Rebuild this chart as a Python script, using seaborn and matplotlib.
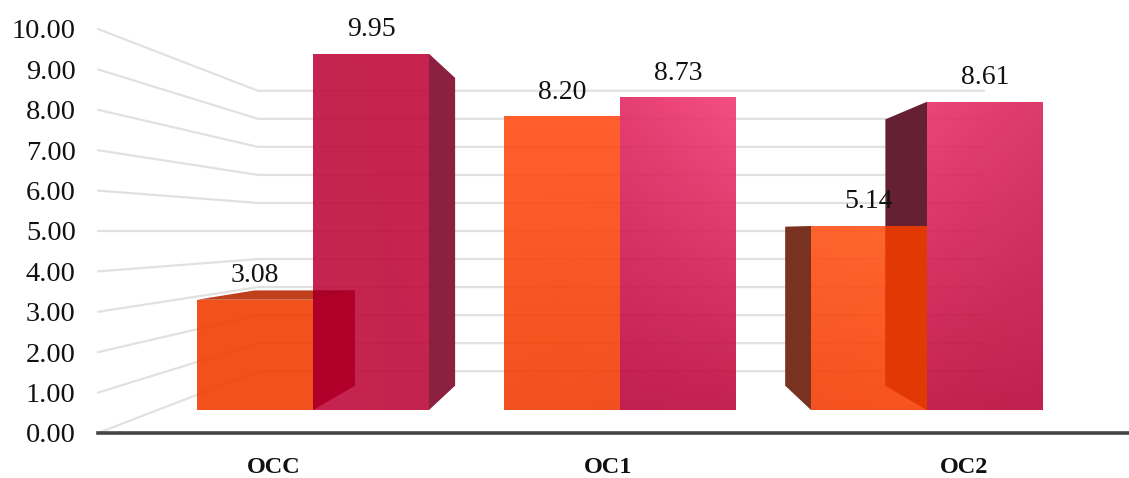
import numpy as np
import pandas as pd
import matplotlib
matplotlib.use("Agg")
import matplotlib.pyplot as plt
from matplotlib.colors import to_rgb
from matplotlib.patches import Polygon, Rectangle
import seaborn as sns

# Values shown on the chart
categories = ["OCC", "OC1", "OC2"]
series_names = ["Orange", "Crimson"]
orange_values = [3.08, 8.20, 5.14]
crimson_values = [9.95, 8.73, 8.61]
y_ticks = [0, 1, 2, 3, 4, 5, 6, 7, 8, 9, 10]

df = pd.DataFrame({
    "category": categories * 2,
    "series": [series_names[0]] * 3 + [series_names[1]] * 3,
    "value": orange_values + crimson_values,
})

W, H = 1129, 478
sns.set_theme(style="white")
plt.rcParams["font.family"] = ["Liberation Serif", "DejaVu Serif"]
fig = plt.figure(figsize=(W / 100, H / 100), dpi=100)
fig.patch.set_facecolor("white")

# Floor axis: carries the tick labels and the perspective wall lines
FLOOR_L, FLOOR_Y, TOP_Y = 98, 433, 29
floor = fig.add_axes([FLOOR_L / W, 1 - FLOOR_Y / H, 1 - FLOOR_L / W, (FLOOR_Y - TOP_Y) / H])
floor.set_xlim(-0.5, 2.5)
floor.set_ylim(0, 10)
floor.set_yticks(y_ticks)
floor.set_yticklabels([f"{t:.2f}" for t in y_ticks], fontsize=20.5, color="#111111")
floor.set_xticks([0.01, 0.985, 2.02])
floor.set_xticklabels(categories, fontsize=17.5, fontweight="bold", color="#111111")
floor.tick_params(axis="y", length=0, pad=16)
floor.tick_params(axis="x", length=0, pad=17.5)
for side in ("top", "left", "right"):
    floor.spines[side].set_visible(False)
floor.spines["bottom"].set_color("#454545")
floor.spines["bottom"].set_linewidth(2.6)
floor.patch.set_alpha(0)

# Left wall recedes to the back plane, back wall is horizontal
BACK_FRAC = 0.306
vp_floor = ((621 - FLOOR_L) / (W - FLOOR_L) * 3 - 0.5, 5.0)
back_end = (984 - FLOOR_L) / (W - FLOOR_L) * 3 - 0.5
for t in y_ticks:
    front = (-0.5, t)
    back = (front[0] + BACK_FRAC * (vp_floor[0] - front[0]),
            t + BACK_FRAC * (vp_floor[1] - t))
    floor.plot([front[0], back[0], back_end], [t, back[1], back[1]],
               color="#e1e1e1", lw=1.6, zorder=1, clip_on=False, solid_joinstyle="round")

# Bar axis: front plane of the bars, over the full figure
SPACING, CENTER0, BASE_Y, UNIT = 307, 313, 410, 35.8
bars = fig.add_axes([0, 0, 1, 1])
xlim = (-CENTER0 / SPACING, (W - CENTER0) / SPACING)
ylim = ((BASE_Y - H) / UNIT, BASE_Y / UNIT)
sns.barplot(data=df, x="category", y="value", hue="series", order=categories,
            hue_order=series_names, palette=["#f4511b", "#c5244f"], width=232 / SPACING,
            gap=0, legend=False, errorbar=None, ax=bars)
bars.set_xlim(*xlim)
bars.set_ylim(*ylim)
bars.axis("off")
bars.patch.set_alpha(0)

VP = ((621 - CENTER0) / SPACING, (BASE_Y - 231) / UNIT)
DEPTH = 0.136


def recede(x, y):
    return (x + DEPTH * (VP[0] - x), y + DEPTH * (VP[1] - y))


# Corner colours of each front face: top-left, top-right, bottom-left, bottom-right
front_colors = {
    (0, 0): ("#f4511b", "#f4511b", "#f4511b", "#f4511b"),
    (0, 1): ("#c5244f", "#c8234f", "#c5244f", "#c6234f"),
    (1, 0): ("#ff5f2b", "#ff5f2c", "#f2511e", "#f34f1f"),
    (1, 1): ("#e63f72", "#f44e83", "#c21f50", "#c4214f"),
    (2, 0): ("#ff632e", "#ff652f", "#f4511f", "#f9531f"),
    (2, 1): ("#ea4577", "#dd3a6a", "#c5224f", "#c0204e"),
}
# Side and top shades: plain, and where seen through the neighbouring bar
side_colors = {
    (0, 0): ("#b0002a", "#b0002a"),
    (0, 1): ("#8b2040", "#8b2040"),
    (2, 0): ("#7a3220", "#7a3220"),
    (2, 1): ("#662034", "#e23804"),
}
top_colors = {(0, 0): ("#bf401c", "#a80026")}

ALPHA = 0.9
patches = list(bars.patches)[:6]
rects = {}
for s in range(2):
    for c in range(3):
        rects[(c, s)] = patches[s * 3 + c]


def veiled(color):
    # Solid colour that reads as `color` once laid at ALPHA over white
    rgb = np.array(to_rgb(color))
    return np.clip((rgb - (1 - ALPHA)) / ALPHA, 0, 1)


def shaded(corners, size=48):
    # RGBA image blending the four corner colours across the face
    tl, tr, bl, br = (veiled(col) for col in corners)
    v, u = np.mgrid[0:1:size * 1j, 0:1:size * 1j]
    u, v = u[..., None], v[..., None]
    rgb = (1 - v) * ((1 - u) * tl + u * tr) + v * ((1 - u) * bl + u * br)
    return np.dstack([rgb, np.full((size, size), ALPHA)])


for (c, s), rect in rects.items():
    x0, x1 = rect.get_x(), rect.get_x() + rect.get_width()
    top = rect.get_height()
    rect.set_facecolor("none")
    rect.set_edgecolor("none")

    # Front face with its soft shading
    im = bars.imshow(shaded(front_colors[(c, s)]), extent=(x0, x1, 0, top), aspect="auto",
                     interpolation="bilinear", zorder=2)
    im.set_clip_path(Rectangle((x0, 0), x1 - x0, top, transform=bars.transData))

    # Side and top faces, depending on where the bar sits relative to the vanishing point
    faces = []
    if (c, s) in side_colors:
        edge = x1 if x1 < VP[0] else x0
        faces.append((side_colors[(c, s)],
                      [(edge, 0), (edge, top), recede(edge, top), recede(edge, 0)]))
    if (c, s) in top_colors:
        faces.append((top_colors[(c, s)],
                      [(x0, top), (x1, top), recede(x1, top), recede(x0, top)]))
    other = rects[(c, 1 - s)]
    ox0, oh = other.get_x(), other.get_height()
    for (plain, through), pts in faces:
        bars.add_patch(Polygon(pts, closed=True, fc=plain, ec="none", zorder=1))
        overlay = Polygon(pts, closed=True, fc=through, ec="none", zorder=2.5)
        bars.add_patch(overlay)
        overlay.set_clip_path(Rectangle((ox0, 0), other.get_width(), oh, transform=bars.transData))

    # Value label above the front face
    bars.annotate(f"{top:.2f}", (0.5 * (x0 + x1), top), xytext=(0, 17.5),
                  textcoords="offset points", ha="center", va="center",
                  fontsize=20, color="#111111", zorder=5)

bars.set_xlim(*xlim)
bars.set_ylim(*ylim)

fig.savefig("out.png", dpi=100, facecolor="white")
